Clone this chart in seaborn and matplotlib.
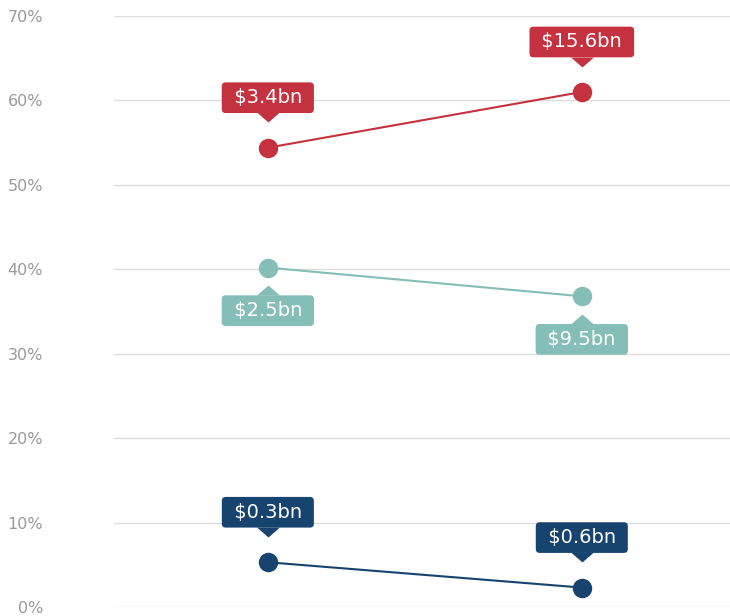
import numpy as np
import pandas as pd
import seaborn as sns
import matplotlib.pyplot as plt
from matplotlib.transforms import offset_copy

positions = [0, 1]
series_names = ["high", "mid", "low"]
high_share = [54.4, 61.0]
mid_share = [40.2, 36.8]
low_share = [5.3, 2.3]
high_labels = ["$3.4bn", "$15.6bn"]
mid_labels = ["$2.5bn", "$9.5bn"]
low_labels = ["$0.3bn", "$0.6bn"]
y_ticks = [0, 10, 20, 30, 40, 50, 60, 70]

colors = {"high": "#c4323f", "mid": "#85bdb7", "low": "#17446f"}
placement = {"high": "above", "mid": "below", "low": "above"}

df = pd.DataFrame({
    "pos": positions * 3,
    "share": high_share + mid_share + low_share,
    "series": [s for s in series_names for _ in positions],
    "label": high_labels + mid_labels + low_labels,
})

sns.set_style("white")
plt.rcParams['font.family'] = ['DejaVu Sans']

fig = plt.figure(figsize=(7.3, 6.16), dpi=100)
ax = fig.add_axes([114 / 730, 1 - 607 / 616, 1 - 114 / 730, (607 - 16) / 616])

sns.lineplot(data=df, x="pos", y="share", hue="series", palette=colors,
             marker="o", markersize=14, markeredgewidth=0, linewidth=1.5,
             legend=False, ax=ax, zorder=3)

ax.set_xlim(-0.49, 1.472)
ax.set_ylim(0, 70)
ax.set_yticks(y_ticks)
ax.set_yticklabels([f"{t}%" for t in y_ticks])
ax.set_xticks([])
ax.set_xlabel("")
ax.set_ylabel("")
ax.grid(axis="y", color="#dddddd", linewidth=1)
ax.tick_params(axis="y", length=0, pad=51, labelsize=11.5, labelcolor="#999999")
for sp in ax.spines.values():
    sp.set_visible(False)

# callout boxes with a small pointer
down_tri = [(-1, 0), (1, 0), (0, -0.87)]
up_tri = [(-1, 0), (1, 0), (0, 0.87)]
for _, row in df.iterrows():
    c = colors[row["series"]]
    if placement[row["series"]] == "above":
        dy, tri, base = 36, down_tri, 25.5
    else:
        dy, tri, base = -31, up_tri, -20
    ax.annotate(" " + row["label"] + " ", (row["pos"], row["share"]),
                xytext=(0, dy), textcoords="offset points",
                ha="center", va="center", fontsize=14, color="white",
                bbox=dict(boxstyle="round,pad=0.3,rounding_size=0.2",
                          fc=c, ec="none"), zorder=5)
    tr = offset_copy(ax.transData, fig=fig, x=0, y=base, units="points")
    ax.plot([row["pos"]], [row["share"]], marker=tri, markersize=16.5,
            color=c, markeredgewidth=0, transform=tr, zorder=5, clip_on=False)

fig.savefig("out.png", dpi=100)
